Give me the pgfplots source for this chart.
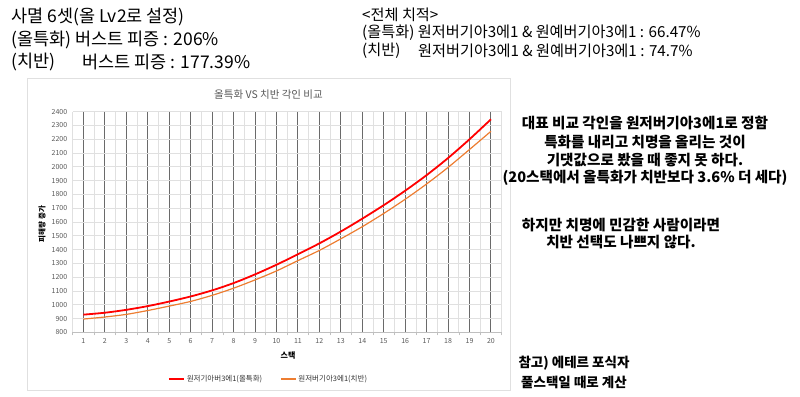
\documentclass[border=0pt]{standalone}
\usepackage{fontspec}
\setmainfont{Noto Sans CJK KR}
\usepackage{pgfplots}
\pgfplotsset{compat=1.18}
\definecolor{redl}{HTML}{FF0000}
\definecolor{orangel}{HTML}{ED7D31}
\definecolor{tickgray}{HTML}{595959}
\definecolor{gridlight}{HTML}{E0E0E0}
\definecolor{griddark}{HTML}{6A6A6A}
\definecolor{axisgray}{HTML}{BFBFBF}

\pgfplotstableread{
x  red   orange
1  928   896
2  942   911
3  963   930
4  990   958
5  1023  990
6  1060  1024
7  1104  1068
8  1157  1120
9  1220  1180
10 1290  1245
11 1366  1320
12 1445  1394
13 1531  1478
14 1624  1566
15 1722  1662
16 1827  1765
17 1940  1876
18 2064  1996
19 2200  2126
20 2345  2258
}\datatable

\begin{document}
\begin{tikzpicture}[x=1pt,y=1pt]
\path[use as bounding box] (0,0) rectangle (800,396);
\draw[gridlight, line width=0.8pt] (27,6) rectangle (510,318);
\begin{axis}[
  at={(72.7pt,63.7pt)}, anchor=south west,
  scale only axis, width=429pt, height=220.6pt,
  xmin=0.5, xmax=20.5, ymin=800, ymax=2400,
  xtick={1,...,20}, minor xtick={0.5,1.5,...,20.5},
  ytick={800,900,...,2400},
  xmajorgrids, xminorgrids, ymajorgrids,
  major x grid style={griddark, line width=1pt},
  minor x grid style={gridlight, line width=0.8pt},
  major y grid style={gridlight, line width=0.8pt},
  axis line style={draw=none},
  tick pos=left, tick align=outside,
  major tick length=0pt, minor tick length=3pt,
  minor tick style={axisgray, line width=0.6pt},
  /pgf/number format/assume math mode=true,
  /pgf/number format/set thousands separator={},
  tick label style={font=\fontsize{7}{8}\selectfont, text=tickgray},
  yticklabel style={xshift=-2pt},
  xticklabel style={yshift=-3pt},
  legend style={at={(0.4564,-0.2117)}, anchor=center, draw=none, fill=none,
    legend columns=2, font=\fontsize{7.5}{9}\selectfont, text=black!80,
    /tikz/every even column/.append style={column sep=16pt}},
  legend image code/.code={\draw[#1] (0pt,0pt) -- (15pt,0pt);},
]
\draw[axisgray, line width=0.8pt] (axis cs:0.5,800) -- (axis cs:20.5,800);
\addplot[redl, line width=1.8pt, smooth, no markers] table[x=x, y=red] {\datatable};
\addlegendentry{원저기아버3에1(올특화)}
\addplot[orangel, line width=1.2pt, smooth, no markers] table[x=x, y=orange] {\datatable};
\addlegendentry{원저버기아3에1(치반)}
\end{axis}

% chart title and axis labels
\node[text=tickgray, font=\fontsize{10.5}{12}\selectfont] at (268.5,301) {올특화 VS 치반 각인 비교};
\node[font=\fontsize{8}{9}\selectfont\bfseries] at (288,40) {스택};
\node[rotate=90, font=\fontsize{7.5}{9}\selectfont\bfseries] at (42,172) {피해량 증가};

% top-left text
\node[anchor=west, inner sep=0, font=\fontsize{17.5}{20}\selectfont] at (11,379) {사멸 6셋(올 Lv2로 설정)};
\node[anchor=west, inner sep=0, font=\fontsize{17.5}{20}\selectfont] at (11,356) {(올특화) 버스트 피증 : 206\%};
\node[anchor=west, inner sep=0, font=\fontsize{17.5}{20}\selectfont] at (11,334) {(치반)};
\node[anchor=west, inner sep=0, font=\fontsize{17.5}{20}\selectfont] at (82,334) {버스트 피증 : 177.39\%};

% top-right text
\node[anchor=west, inner sep=0, font=\fontsize{15.2}{17}\selectfont] at (362,381) {<전체 치적>};
\node[anchor=west, inner sep=0, font=\fontsize{15.2}{17}\selectfont] at (362,363) {(올특화) 원저버기아3에1 \& 원예버기아3에1 : 66.47\%};
\node[anchor=west, inner sep=0, font=\fontsize{15.2}{17}\selectfont] at (362,345) {(치반)};
\node[anchor=west, inner sep=0, font=\fontsize{15.2}{17}\selectfont] at (418,345) {원저버기아3에1 \& 원예버기아3에1 : 74.7\%};

% right commentary
\begin{scope}[every node/.style={inner sep=0, font=\fontsize{14.6}{16}\selectfont\bfseries}]
\node at (645,273) {대표 비교 각인을 원저버기아3에1로 정함};
\node at (645,254) {특화를 내리고 치명을 올리는 것이};
\node at (645,236) {기댓값으로 봤을 때 좋지 못 하다.};
\node at (645,218) {(20스택에서 올특화가 치반보다 3.6\% 더 세다)};
\node at (621,171) {하지만 치명에 민감한 사람이라면};
\node at (621,154) {치반 선택도 나쁘지 않다.};
\end{scope}
\begin{scope}[every node/.style={inner sep=0, font=\fontsize{13.5}{16}\selectfont\bfseries}]
\node at (574,33) {참고) 에테르 포식자};
\node at (574,14) {풀스택일 때로 계산};
\end{scope}
\end{tikzpicture}
\end{document}
